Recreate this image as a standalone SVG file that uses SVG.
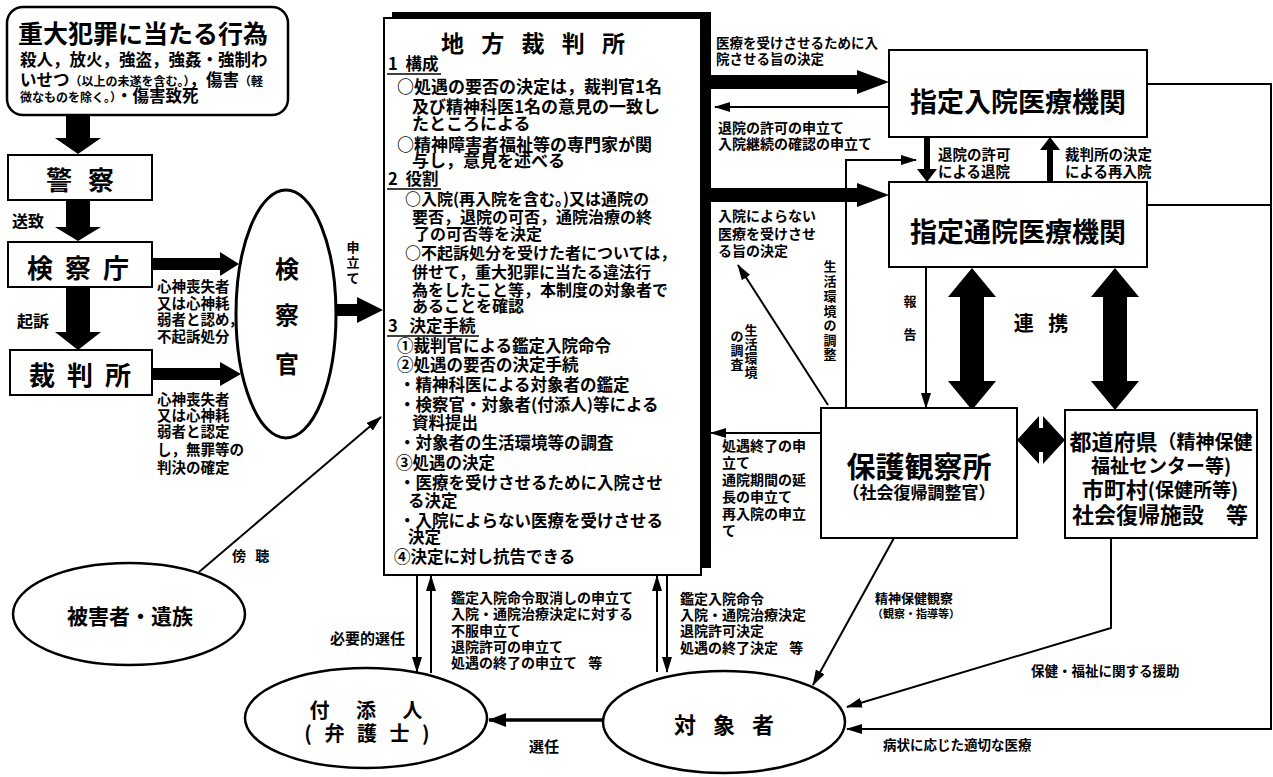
<svg xmlns="http://www.w3.org/2000/svg" width="1273" height="777" viewBox="0 0 1273 777">
<defs>
<style>
text{font-family:"Noto Sans CJK JP","Noto Sans CJK SC",sans-serif;font-weight:700;fill:#000;dominant-baseline:central}
.m{text-anchor:middle}
.e{text-anchor:end}
.bl{dominant-baseline:auto}
.box{fill:#fff;stroke:#000;stroke-width:2}
.ell{fill:#fff;stroke:#000;stroke-width:2.5}
.blk{fill:#000;stroke:none}
.ln{fill:none;stroke:#000;stroke-width:2}
.arr{fill:none;stroke:#000;stroke-width:2;marker-end:url(#ah)}
.arr3{fill:none;stroke:#000;stroke-width:3.5;marker-end:url(#ahb)}
.s11{font-size:11px}.s13{font-size:13px}.s135{font-size:13.5px}.s14{font-size:14px}.s145{font-size:14.5px}
.s15{font-size:15px}.s16{font-size:16px}.s165{font-size:16.5px}.s17{font-size:17px}
.s20{font-size:20px}.s21{font-size:21px}.s22{font-size:22px}.s23{font-size:23px}.s24{font-size:24px}
.s26{font-size:26px}.s27{font-size:27px}.s29{font-size:29px}
</style>
<marker id="ah" viewBox="0 0 16 10" refX="15" refY="5" markerWidth="16" markerHeight="10" markerUnits="userSpaceOnUse" orient="auto"><path d="M0,0 L16,5 L0,10 z" fill="#000"/></marker>
<marker id="ahb" viewBox="0 0 18 14" refX="17" refY="7" markerWidth="18" markerHeight="14" markerUnits="userSpaceOnUse" orient="auto"><path d="M0,0 L18,7 L0,14 z" fill="#000"/></marker>
</defs>
<rect width="1273" height="777" fill="#fff"/>

<g id="connectors">
  <!-- thick block arrows -->
  <polygon class="blk" points="66,115 90,115 90,138 101,138 78,154 55,138 66,138"/>
  <polygon class="blk" points="66,200 90,200 90,227 101,227 78,241 55,227 66,227"/>
  <polygon class="blk" points="66,287 90,287 90,332 101,332 78,350 55,332 66,332"/>
  <polygon class="blk" points="150,258 220,258 220,252 239,264 220,276 220,270 150,270"/>
  <polygon class="blk" points="152,368 220,368 220,362 241,374 220,386 220,380 152,380"/>
  <polygon class="blk" points="335,304 357,304 357,297 383,310 357,323 357,316 335,316"/>
  <polygon class="blk" points="711,75 857,75 857,70 889,82 857,94 857,89 711,89"/>
  <polygon class="blk" points="711,188 857,188 857,183 889,195 857,207 857,202 711,202"/>
  <polygon class="blk" points="972,268 996,297 984,297 984,381 996,381 972,410 948,381 960,381 960,297 948,297"/>
  <polygon class="blk" points="1115,268 1139,297 1127,297 1127,381 1139,381 1115,410 1091,381 1103,381 1103,297 1091,297"/>
  <polygon class="blk" points="1017,440 1039,416 1039,428 1043,428 1043,416 1065,440 1043,464 1043,452 1039,452 1039,464"/>
  <polygon class="blk" points="924,137 930,137 930,169 937,169 927,182 917,169 924,169"/>
  <polygon class="blk" points="1047,182 1053,182 1053,150 1060,150 1050,137 1040,150 1047,150"/>
  <!-- thin arrows -->
  <line class="arr" x1="889" y1="107" x2="715" y2="107"/>
  <line class="arr" x1="821" y1="433" x2="711" y2="433"/>
  <polyline class="arr" points="846,408 846,160 916,160"/>
  <line class="arr" x1="926" y1="267" x2="926" y2="408"/>
  <line class="arr" x1="828" y1="405" x2="738" y2="265"/>
  <line class="arr" x1="199" y1="572" x2="381" y2="417"/>
  <line class="arr" x1="417" y1="575" x2="417" y2="672"/>
  <line class="arr" x1="431" y1="673" x2="431" y2="576"/>
  <line class="arr" x1="657" y1="672" x2="657" y2="576"/>
  <line class="arr" x1="667" y1="575" x2="667" y2="672"/>
  <line class="arr3" x1="603" y1="720" x2="489" y2="720"/>
  <line class="arr" x1="894" y1="538" x2="813" y2="685"/>
  <polyline class="arr" points="1111,538 1111,628 847,707"/>
  <polyline class="arr" points="1147,84 1271,84 1271,729 847,729"/>
  <line class="ln" x1="1147" y1="205" x2="1271" y2="205"/>
</g>

<g id="n-crime">
  <rect class="box" x="7" y="7" width="281" height="108" rx="16" style="stroke-width:2.5"/>
  <text class="bl" x="18" y="43" style="font-size:25px">重大犯罪に当たる行為</text>
  <text class="bl s165" x="20" y="65.5">殺人，放火，強盗，強姦・強制わ</text>
  <text class="bl" x="20" y="86"><tspan class="s165">いせつ</tspan><tspan style="font-size:12px">（以上の未遂を含む。）</tspan><tspan class="s165">，傷害</tspan><tspan style="font-size:12px">（軽</tspan></text>
  <text class="bl" x="20" y="102"><tspan style="font-size:12px">微なものを除く。）</tspan><tspan class="s165">・傷害致死</tspan></text>
</g>

<g id="n-police">
  <rect class="box" x="8" y="155" width="144" height="45"/>
  <text class="m s26" x="80" y="178" style="word-spacing:10px">警 察</text>
</g>
<text class="s16" x="12" y="220">送致</text>

<g id="n-prosecutor-office">
  <rect class="box" x="8" y="242" width="144" height="45"/>
  <text class="m s26" x="78" y="266" style="word-spacing:6px">検 察 庁</text>
</g>
<text class="s16" x="17" y="320">起訴</text>

<g id="n-court">
  <rect class="box" x="10" y="350" width="142" height="45"/>
  <text class="m s26" x="80" y="373" style="word-spacing:6px">裁 判 所</text>
</g>

<g id="labels-left">
  <text class="s145" x="157" y="285">心神喪失者</text>
  <text class="s145" x="157" y="302">又は心神耗</text>
  <text class="s145" x="157" y="318">弱者と認め，</text>
  <text class="s145" x="157" y="335">不起訴処分</text>
  <text class="s145" x="157" y="398">心神喪失者</text>
  <text class="s145" x="157" y="414">又は心神耗</text>
  <text class="s145" x="157" y="430">弱者と認定</text>
  <text class="s145" x="157" y="448">し，無罪等の</text>
  <text class="s145" x="157" y="466">判決の確定</text>
  <text class="m s13" x="353"><tspan x="353" y="246">申</tspan><tspan x="353" y="261">立</tspan><tspan x="353" y="277">て</tspan></text>
  <text class="s14" x="232" y="555" style="word-spacing:6px">傍 聴</text>
</g>

<g id="n-prosecutor">
  <ellipse class="ell" cx="286" cy="314" rx="50" ry="124" style="stroke-width:3"/>
  <text class="m s24" x="287" y="267">検</text>
  <text class="m s24" x="287" y="313">察</text>
  <text class="m s24" x="287" y="362">官</text>
</g>

<g id="n-district-court">
  <rect class="blk" x="392" y="12" width="319" height="7"/>
  <rect class="blk" x="701" y="12" width="10" height="556"/>
  <rect class="box" x="384" y="18" width="317" height="557"/>
  <text class="m s23" x="533" y="42" style="word-spacing:12px">地 方 裁 判 所</text>
  <text class="s165" x="388" y="63" style="word-spacing:4px">1 構成</text>
  <line class="ln" x1="387" y1="74" x2="441" y2="74" style="stroke-width:1.5"/>
  <text class="s17" x="397" y="85">○処遇の要否の決定は，裁判官1名</text>
  <text class="s17" x="412" y="105">及び精神科医1名の意見の一致し</text>
  <text class="s17" x="412" y="122">たところによる</text>
  <text class="s17" x="397" y="143">○精神障害者福祉等の専門家が関</text>
  <text class="s17" x="412" y="159">与し，意見を述べる</text>
  <text class="s165" x="388" y="178" style="word-spacing:4px">2 役割</text>
  <line class="ln" x1="387" y1="189" x2="441" y2="189" style="stroke-width:1.5"/>
  <text class="s16" x="405" y="198">○入院(再入院を含む。)又は通院の</text>
  <text class="s16" x="412" y="216">要否，退院の可否，通院治療の終</text>
  <text class="s16" x="414" y="233">了の可否等を決定</text>
  <text class="s16" x="405" y="252">○不起訴処分を受けた者については，</text>
  <text class="s16" x="412" y="271">併せて，重大犯罪に当たる違法行</text>
  <text class="s16" x="412" y="289">為をしたこと等，本制度の対象者で</text>
  <text class="s16" x="412" y="305">あることを確認</text>
  <text class="s165" x="388" y="325" style="word-spacing:8px">3 決定手続</text>
  <line class="ln" x1="387" y1="336" x2="479" y2="336" style="stroke-width:1.5"/>
  <text class="s165" x="397" y="345">①裁判官による鑑定入院命令</text>
  <text class="s165" x="397" y="364">②処遇の要否の決定手続</text>
  <text class="s165" x="399" y="384">・精神科医による対象者の鑑定</text>
  <text class="s165" x="399" y="404">・検察官・対象者(付添人)等による</text>
  <text class="s165" x="412" y="422">資料提出</text>
  <text class="s165" x="399" y="442">・対象者の生活環境等の調査</text>
  <text class="s165" x="396" y="462">③処遇の決定</text>
  <text class="s165" x="399" y="482">・医療を受けさせるために入院させ</text>
  <text class="s165" x="408" y="500">る決定</text>
  <text class="s165" x="399" y="520">・入院によらない医療を受けさせる</text>
  <text class="s165" x="408" y="536">決定</text>
  <text class="s165" x="394" y="556">④決定に対し抗告できる</text>
</g>

<g id="labels-right">
  <text class="s135" x="716" y="42">医療を受けさせるために入</text>
  <text class="s135" x="716" y="58">院させる旨の決定</text>
  <text class="s14" x="718" y="127">退院の許可の申立て</text>
  <text class="s14" x="718" y="143">入院継続の確認の申立て</text>
  <text class="s145" x="938" y="153">退院の許可</text>
  <text class="s145" x="938" y="170">による退院</text>
  <text class="s145" x="1065" y="153">裁判所の決定</text>
  <text class="s145" x="1065" y="170">による再入院</text>
  <text class="s14" x="718" y="215">入院によらない</text>
  <text class="s14" x="718" y="233">医療を受けさせ</text>
  <text class="s14" x="718" y="250">る旨の決定</text>
  <text class="m s13" x="830"><tspan x="830" y="265">生</tspan><tspan x="830" y="280">活</tspan><tspan x="830" y="295">環</tspan><tspan x="830" y="310">境</tspan><tspan x="830" y="324">の</tspan><tspan x="830" y="339">調</tspan><tspan x="830" y="353">整</tspan></text>
  <text class="m s13" x="910"><tspan x="910" y="300">報</tspan><tspan x="910" y="333">告</tspan></text>
  <text class="m s13" x="751"><tspan x="751" y="329">生</tspan><tspan x="751" y="343">活</tspan><tspan x="751" y="357">環</tspan><tspan x="751" y="371">境</tspan></text>
  <text class="m s13" x="737"><tspan x="737" y="335">の</tspan><tspan x="737" y="349">調</tspan><tspan x="737" y="363">査</tspan></text>
  <text class="m s20" x="1041" y="322" style="word-spacing:10px">連 携</text>
  <text class="s14" x="722" y="445">処遇終了の申</text>
  <text class="s14" x="722" y="462">立て</text>
  <text class="s14" x="722" y="479">通院期間の延</text>
  <text class="s14" x="722" y="496">長の申立て</text>
  <text class="s14" x="722" y="513">再入院の申立</text>
  <text class="s14" x="722" y="530">て</text>
  <text class="s13" x="875" y="597">精神保健観察</text>
  <text class="s11" x="872" y="613">（観察・指導等）</text>
  <text class="s135" x="1031" y="670">保健・福祉に関する援助</text>
  <text class="s135" x="883" y="744">病状に応じた適切な医療</text>
</g>

<g id="labels-bottom">
  <text class="e s15" x="405" y="637">必要的選任</text>
  <text class="s14" x="451" y="597">鑑定入院命令取消しの申立て</text>
  <text class="s14" x="451" y="613">入院・通院治療決定に対する</text>
  <text class="s14" x="451" y="630">不服申立て</text>
  <text class="s14" x="451" y="646">退院許可の申立て</text>
  <text class="s14" x="451" y="662" style="word-spacing:8px">処遇の終了の申立て 等</text>
  <text class="s14" x="680" y="598">鑑定入院命令</text>
  <text class="s14" x="680" y="614">入院・通院治療決定</text>
  <text class="s14" x="680" y="630">退院許可決定</text>
  <text class="s14" x="680" y="647" style="word-spacing:8px">処遇の終了決定 等</text>
  <text class="s15" x="529" y="745">選任</text>
</g>

<g id="n-inpatient">
  <rect class="box" x="889" y="50" width="258" height="87"/>
  <text class="m s27" x="1018" y="100">指定入院医療機関</text>
</g>

<g id="n-outpatient">
  <rect class="box" x="889" y="182" width="258" height="85"/>
  <text class="m s27" x="1018" y="230">指定通院医療機関</text>
</g>

<g id="n-probation">
  <rect class="box" x="821" y="408" width="196" height="130"/>
  <text class="m s29" x="919" y="465">保護観察所</text>
  <text class="m s17" x="919" y="491">（社会復帰調整官）</text>
</g>

<g id="n-prefecture">
  <rect class="box" x="1065" y="410" width="192" height="128"/>
  <text class="m" x="1161" y="440"><tspan class="s22">都道府県</tspan><tspan style="font-size:19px">（精神保健</tspan></text>
  <text class="m" x="1161" y="464" style="font-size:19px">福祉センター等)</text>
  <text class="m" x="1160" y="488"><tspan class="s22">市町村</tspan><tspan style="font-size:19px">(保健所等)</tspan></text>
  <text class="m s22" x="1160" y="513">社会復帰施設　等</text>
</g>

<g id="n-victim">
  <ellipse class="ell" cx="129" cy="614" rx="116" ry="51"/>
  <text class="m s21" x="130" y="615">被害者・遺族</text>
</g>

<g id="n-attendant">
  <ellipse class="ell" cx="366" cy="718" rx="121" ry="50"/>
  <text class="m s20" x="366" y="709" style="word-spacing:22px">付 添 人</text>
  <text class="m s20" x="367" y="732" style="word-spacing:8px">( 弁 護 士 )</text>
</g>

<g id="n-subject">
  <ellipse class="ell" cx="724" cy="722" rx="121" ry="51"/>
  <text class="m s22" x="724" y="723" style="word-spacing:12px">対 象 者</text>
</g>
</svg>
